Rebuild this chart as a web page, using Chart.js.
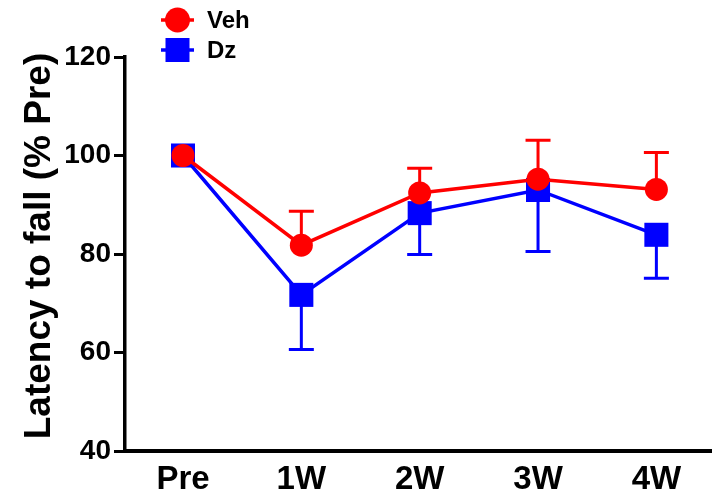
<!DOCTYPE html>
<html>
<head>
<meta charset="utf-8">
<script src="https://cdn.jsdelivr.net/npm/chart.js@4.4.1/dist/chart.umd.min.js"></script>
<style>
  html, body { margin: 0; padding: 0; background: #fff; }
  #wrap { width: 712px; height: 495px; }
  canvas { display: block; }
</style>
</head>
<body>
<div id="wrap"><canvas id="c" width="712" height="495"></canvas></div>
<script>
// Time points and group means (% of pre-treatment latency) with SEM
const timepoints = ['Pre', '1W', '2W', '3W', '4W'];
const vehMean = [100, 81.8, 92.4, 95.2, 93.1];
const vehSem  = [0, 6.9, 5.0, 7.9, 7.5];
const dzMean  = [100, 71.7, 88.3, 93.0, 83.9];
const dzSem   = [0, 11.1, 8.4, 12.5, 8.8];
const yTicks  = [40, 60, 80, 100, 120];
const yTitle  = 'Latency to fall (% Pre)';

const FONT = '"Liberation Sans", Arial, Helvetica, sans-serif';
const RED = '#ff0000';
const BLUE = '#0000ff';

// One-sided error bars: Veh upward, Dz downward
const errorBars = {
  id: 'errorBars',
  beforeDatasetsDraw(chart) {
    const { ctx, scales: { x, y } } = chart;
    for (let d = chart.data.datasets.length - 1; d >= 0; d--) {
      const ds = chart.data.datasets[d];
      ctx.save();
      ctx.strokeStyle = ds.borderColor;
      ctx.lineWidth = 3;
      ds.sem.forEach((e, i) => {
        if (!e) return;
        const px = x.getPixelForValue(i);
        const y0 = y.getPixelForValue(ds.mean[i]);
        const y1 = y.getPixelForValue(ds.mean[i] + ds.errDir * e);
        ctx.beginPath();
        ctx.moveTo(px, y0);
        ctx.lineTo(px, y1);
        ctx.moveTo(px - 12.5, y1);
        ctx.lineTo(px + 12.5, y1);
        ctx.stroke();
      });
      ctx.restore();
    }
  }
};

// Series key in the upper left and the rotated y-axis title
const annotations = {
  id: 'annotations',
  afterDraw(chart) {
    const { ctx } = chart;
    const rows = [20, 50];
    chart.data.datasets.forEach((ds, k) => {
      const cy = rows[k];
      const cx = 177.5;
      ctx.save();
      ctx.strokeStyle = ds.borderColor;
      ctx.lineWidth = 3.5;
      ctx.beginPath();
      ctx.moveTo(161, cy);
      ctx.lineTo(194, cy);
      ctx.stroke();
      ctx.fillStyle = ds.backgroundColor;
      ctx.beginPath();
      if (ds.pointStyle === 'rect') {
        ctx.rect(cx - 12, cy - 12, 24, 24);
      } else {
        ctx.arc(cx, cy, 12.5, 0, Math.PI * 2);
      }
      ctx.fill();
      ctx.fillStyle = '#000';
      ctx.font = 'bold 24px ' + FONT;
      ctx.textAlign = 'left';
      ctx.textBaseline = 'middle';
      ctx.fillText(ds.label, 207, cy + 1);
      ctx.restore();
    });

    ctx.save();
    ctx.translate(40, 246);
    ctx.rotate(-Math.PI / 2);
    ctx.fillStyle = '#000';
    ctx.font = 'bold 37px ' + FONT;
    ctx.textAlign = 'center';
    ctx.textBaseline = 'middle';
    ctx.fillText(yTitle, 0, 0);
    ctx.restore();
  }
};

const toPoints = arr => arr.map((v, i) => ({ x: i, y: v }));

new Chart(document.getElementById('c'), {
  type: 'line',
  data: {
    datasets: [
      {
        label: 'Veh',
        data: toPoints(vehMean),
        mean: vehMean,
        sem: vehSem,
        errDir: 1,
        borderColor: RED,
        backgroundColor: RED,
        borderWidth: 3.5,
        pointStyle: 'circle',
        pointRadius: 11.5,
        pointHoverRadius: 11.5,
        pointBorderWidth: 0,
        tension: 0
      },
      {
        label: 'Dz',
        data: toPoints(dzMean),
        mean: dzMean,
        sem: dzSem,
        errDir: -1,
        borderColor: BLUE,
        backgroundColor: BLUE,
        borderWidth: 3.5,
        pointStyle: 'rect',
        pointRadius: 17,
        pointHoverRadius: 17,
        pointBorderWidth: 0,
        tension: 0
      }
    ]
  },
  options: {
    responsive: false,
    animation: false,
    devicePixelRatio: 1,
    layout: { autoPadding: false, padding: { top: 57, left: 0, right: 0, bottom: 0 } },
    plugins: {
      legend: { display: false },
      tooltip: { enabled: false }
    },
    scales: {
      x: {
        type: 'linear',
        min: -0.49,
        max: 4.47,
        afterBuildTicks: s => { s.ticks = timepoints.map((_, i) => ({ value: i })); },
        afterFit: s => { s.height = 44; s.paddingLeft = 0; s.paddingRight = 0; },
        grid: { display: false, drawTicks: false },
        border: { display: true, color: '#000', width: 4 },
        ticks: {
          padding: 9,
          color: '#000',
          font: { family: FONT, size: 33, weight: 'bold' },
          callback: v => timepoints[v]
        }
      },
      y: {
        min: 40,
        max: 120,
        afterBuildTicks: s => { s.ticks = yTicks.map(v => ({ value: v })); },
        afterFit: s => { s.width = 125; },
        grid: {
          display: true,
          drawOnChartArea: false,
          drawTicks: true,
          tickLength: 11,
          lineWidth: 3,
          color: '#000'
        },
        border: { display: true, color: '#000', width: 3.5 },
        ticks: {
          padding: 3,
          color: '#000',
          font: { family: FONT, size: 28, weight: 'bold' }
        }
      }
    }
  },
  plugins: [errorBars, annotations]
});
</script>
</body>
</html>
